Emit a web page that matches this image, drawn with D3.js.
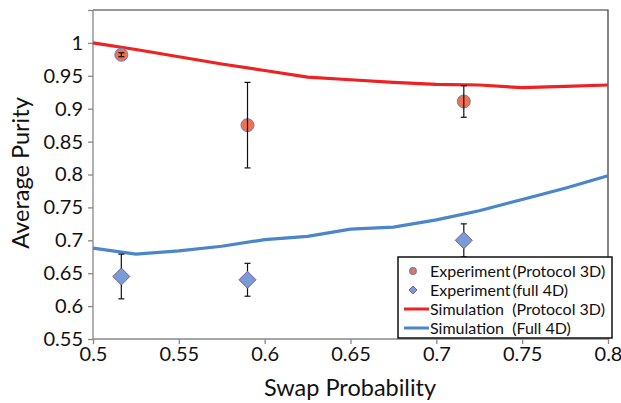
<!DOCTYPE html>
<html><head><meta charset="utf-8">
<script src="https://cdn.jsdelivr.net/npm/d3@7"></script>
<style>body{margin:0;background:#fff}svg{display:block}</style>
</head><body><svg id="c" width="621" height="403"></svg>
<script>
const simX = [0.5,0.525,0.55,0.575,0.6,0.625,0.65,0.675,0.7,0.725,0.75,0.775,0.8];
const simProtocol3D = [1.0,0.990,0.979,0.968,0.958,0.948,0.944,0.940,0.937,0.936,0.932,0.934,0.936];
const simFull4D = [0.688,0.679,0.684,0.691,0.701,0.706,0.717,0.720,0.731,0.745,0.762,0.779,0.798];
const expX = [0.5165,0.59,0.716];
const expProtocol3D = [0.982,0.875,0.911];
const expProtocol3DErr = [0.003,0.065,0.024];
const expFull4D = [0.645,0.640,0.700];
const expFull4DErr = [0.034,0.025,0.025];
const xTicks = [0.5,0.55,0.6,0.65,0.7,0.75,0.8];
const yTicks = [0.55,0.6,0.65,0.7,0.75,0.8,0.85,0.9,0.95,1,1.05];
const legendLabels = ["Experiment\u2009(Protocol 3D)","Experiment\u2009(full 4D)","Simulation  (Protocol 3D)","Simulation  (Full 4D)"];

const svg = d3.select("#c");
const L=93,R=608,T=10,B=339;
const x = d3.scaleLinear().domain([0.5,0.8]).range([L,R]);
const y = d3.scaleLinear().domain([0.55,1.05]).range([B,T]);
const font = "Lato, 'Open Sans', sans-serif";

// frame top/right
svg.append("path").attr("d",`M${L},${T}H${R}V${B}`).attr("fill","none").attr("stroke","#333").attr("stroke-width",1.2);

const yAx = svg.append("g").attr("transform",`translate(${L},0)`)
  .call(d3.axisLeft(y).tickValues(yTicks).tickSize(5).tickPadding(5)
    .tickFormat(d=> d>=1.04 ? "" : String(+d.toFixed(2))));
const xAx = svg.append("g").attr("transform",`translate(0,${B})`)
  .call(d3.axisBottom(x).tickValues(xTicks).tickSize(5).tickPadding(3)
    .tickFormat(d=> String(+d.toFixed(2))));
[yAx,xAx].forEach(g=>{
  g.selectAll("path,line").attr("stroke","#888").attr("stroke-width",1.3);
  g.selectAll("text").attr("fill","#111").style("font-family",font).style("font-size","20px");
});
yAx.select(".domain").attr("d",`M0,${T}V${B}`);
xAx.select(".domain").attr("d",`M${L},0H${R}`);

// axis titles
svg.append("text").attr("x",350).attr("y",396).attr("text-anchor","middle")
  .style("font-family",font).style("font-size","23.5px").attr("fill","#111").text("Swap Probability");
svg.append("text").attr("transform","translate(29,173) rotate(-90)").attr("text-anchor","middle")
  .style("font-family",font).style("font-size","23.5px").attr("fill","#111").text("Average Purity");

// simulation lines
const line = d3.line().x((d,i)=>x(simX[i])).y(d=>y(d));
svg.append("path").datum(simProtocol3D).attr("d",line).attr("fill","none").attr("stroke","#ee2222").attr("stroke-width",3.2);
svg.append("path").datum(simFull4D).attr("d",line).attr("fill","none").attr("stroke","#4a86c8").attr("stroke-width",3.2);

// error bars
function errBars(vals, errs){
  const g = svg.append("g").attr("stroke","#111").attr("stroke-width",1.2);
  vals.forEach((v,i)=>{
    const cx=x(expX[i]), y1=y(v+errs[i]), y2=y(v-errs[i]);
    g.append("line").attr("x1",cx).attr("x2",cx).attr("y1",y1).attr("y2",y2);
    g.append("line").attr("x1",cx-3).attr("x2",cx+3).attr("y1",y1).attr("y2",y1);
    g.append("line").attr("x1",cx-3).attr("x2",cx+3).attr("y1",y2).attr("y2",y2);
  });
}
// circles
svg.append("g").selectAll("circle").data(expProtocol3D).join("circle")
  .attr("cx",(d,i)=>x(expX[i])).attr("cy",d=>y(d)).attr("r",6.5)
  .attr("fill","#f07052").attr("stroke","#5b86c6").attr("stroke-width",1);
errBars(expProtocol3D, expProtocol3DErr);
// diamonds
const dia = (cx,cy,r)=>`M${cx},${cy-r}L${cx+r},${cy}L${cx},${cy+r}L${cx-r},${cy}Z`;
errBars(expFull4D, expFull4DErr);
svg.append("g").selectAll("path").data(expFull4D).join("path")
  .attr("d",(d,i)=>dia(x(expX[i]),y(d),8.5))
  .attr("fill","#7b9bd4").attr("stroke","#7a5aa6").attr("stroke-width",1);

// legend
const lg = svg.append("g");
lg.append("rect").attr("x",398).attr("y",257).attr("width",214).attr("height",81)
  .attr("fill","#fff").attr("stroke","#111").attr("stroke-width",1.5);
const ly = [271,290,309,328];
lg.append("circle").attr("cx",413).attr("cy",ly[0]).attr("r",3.3).attr("fill","#f07052").attr("stroke","#5b86c6").attr("stroke-width",1.2);
lg.append("path").attr("d",dia(413,ly[1],4)).attr("fill","#7b9bd4").attr("stroke","#7a5aa6").attr("stroke-width",1);
lg.append("line").attr("x1",404).attr("x2",429).attr("y1",ly[2]).attr("y2",ly[2]).attr("stroke","#ee2222").attr("stroke-width",3);
lg.append("line").attr("x1",404).attr("x2",429).attr("y1",ly[3]).attr("y2",ly[3]).attr("stroke","#4a86c8").attr("stroke-width",3);
legendLabels.forEach((t,i)=>{
  lg.append("text").attr("x",430).attr("y",ly[i]).attr("dy","0.35em").attr("xml:space","preserve")
    .style("white-space","pre").style("font-family",font).style("font-size","16px").attr("fill","#111").text(t);
});
</script></body></html>
